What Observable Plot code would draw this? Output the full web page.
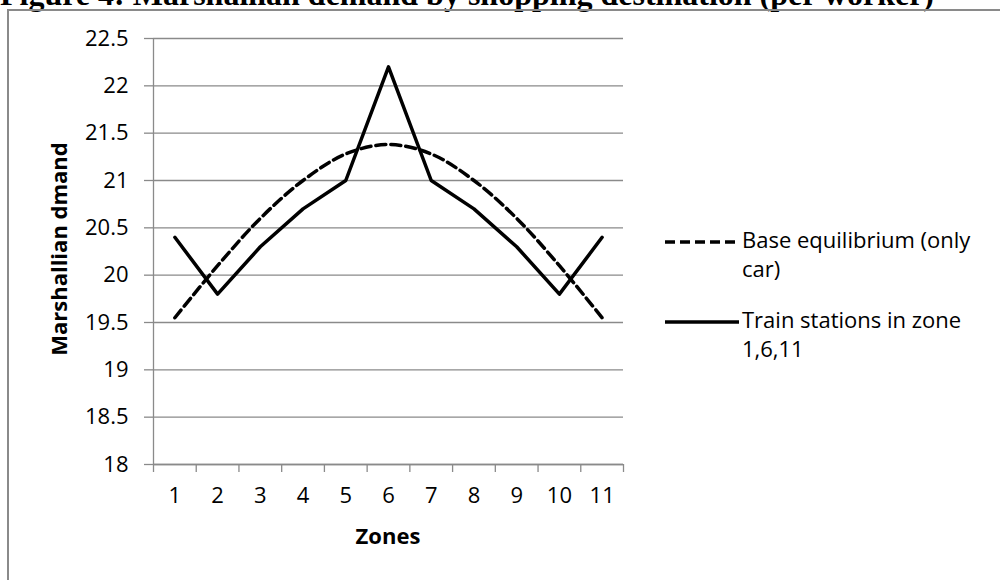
<!DOCTYPE html>
<html>
<head>
<meta charset="utf-8">
<script src="https://cdn.jsdelivr.net/npm/d3@7"></script>
<script src="https://cdn.jsdelivr.net/npm/@observablehq/plot@0.6"></script>
<style>
  html, body { margin: 0; padding: 0; background: #fff; }
  #page { position: relative; width: 1000px; height: 580px; overflow: hidden; font-family: "Open Sans", sans-serif; color: #000; }
  #title { position: absolute; left: 0; top: -22px; font-family: "Liberation Serif", "Times New Roman", serif; font-weight: bold; font-size: 32px; line-height: 1; white-space: nowrap; }
  #frame { position: absolute; left: 7px; top: 9px; width: 1000px; height: 600px; border-left: 2px solid #8a8a8a; border-top: 2px solid #8a8a8a; }
  #chart { position: absolute; left: 0; top: 0; }
  #ytitle { position: absolute; left: 58px; top: 249px; transform: translate(-50%, -50%) rotate(-90deg); font-weight: bold; font-size: 22px; white-space: nowrap; }
  #xtitle { position: absolute; left: 388px; top: 535px; transform: translate(-50%, -50%); font-weight: bold; font-size: 22px; }
  .leg { position: absolute; left: 665px; font-size: 22px; line-height: 29px; }
  .leg svg { position: absolute; left: 0; }
  .leg div { position: absolute; left: 77px; white-space: nowrap; }
</style>
</head>
<body>
<div id="page">
  <div id="title">Figure 4: Marshallian demand by shopping destination (per worker)</div>
  <div id="frame"></div>
  <div id="chart"></div>
  <div id="ytitle">Marshallian dmand</div>
  <div id="xtitle">Zones</div>
  <div class="leg" style="top:225px">
    <svg width="76" height="30" style="top:2px"><line x1="0" x2="74" y1="15" y2="15" stroke="#000" stroke-width="3.5" stroke-dasharray="10,5"/></svg>
    <div>Base equilibrium (only<br>car)</div>
  </div>
  <div class="leg" style="top:305px">
    <svg width="76" height="30" style="top:2px"><line x1="0" x2="74" y1="15" y2="15" stroke="#000" stroke-width="3.5"/></svg>
    <div>Train stations in zone<br>1,6,11</div>
  </div>
</div>
<script>
const zones = [1, 2, 3, 4, 5, 6, 7, 8, 9, 10, 11];
const baseValues = [19.55, 20.1, 20.6, 21.0, 21.28, 21.38, 21.28, 21.0, 20.6, 20.1, 19.55];
const trainValues = [20.4, 19.8, 20.3, 20.7, 21.0, 22.2, 21.0, 20.7, 20.3, 19.8, 20.4];
const yTicks = [18, 18.5, 19, 19.5, 20, 20.5, 21, 21.5, 22, 22.5];

const rows = zones.map((z, i) => ({zone: z, base: baseValues[i], train: trainValues[i]}));
const separators = zones.map(z => z - 0.5).concat([zones[zones.length - 1] + 0.5]);
const grey = "#8a8a8a";

const chart = Plot.plot({
  width: 650,
  height: 500,
  marginLeft: 153,
  marginRight: 27,
  marginTop: 38,
  marginBottom: 36,
  x: {domain: [separators[0], separators[separators.length - 1]], axis: null},
  y: {domain: [yTicks[0], yTicks[yTicks.length - 1]], axis: null},
  style: {fontFamily: "Open Sans", fontSize: "22px", color: "#000", background: "transparent", overflow: "visible"},
  marks: [
    Plot.gridY(yTicks, {stroke: grey, strokeOpacity: 1, strokeWidth: 1.3}),
    Plot.axisY({ticks: yTicks, tickSize: 9, tickPadding: 16, stroke: grey, strokeWidth: 1.3, tickFormat: d => String(d), label: null, fontSize: 22}),
    Plot.ruleX([separators[0]], {stroke: grey, strokeWidth: 1.3}),
    Plot.ruleY([yTicks[0]], {stroke: grey, strokeWidth: 1.3}),
    Plot.axisX({ticks: separators, tickSize: 8, stroke: grey, strokeWidth: 1.3, tickFormat: () => "", label: null}),
    Plot.axisX({ticks: zones, tickSize: 0, tickPadding: 23, tickFormat: d => String(d), label: null, fontSize: 22}),
    Plot.line(rows, {x: "zone", y: "base", stroke: "#000", strokeWidth: 3.5, strokeDasharray: "10,5", curve: "catmull-rom"}),
    Plot.line(rows, {x: "zone", y: "train", stroke: "#000", strokeWidth: 3.5})
  ]
});
document.getElementById("chart").appendChild(chart);
</script>
</body>
</html>
